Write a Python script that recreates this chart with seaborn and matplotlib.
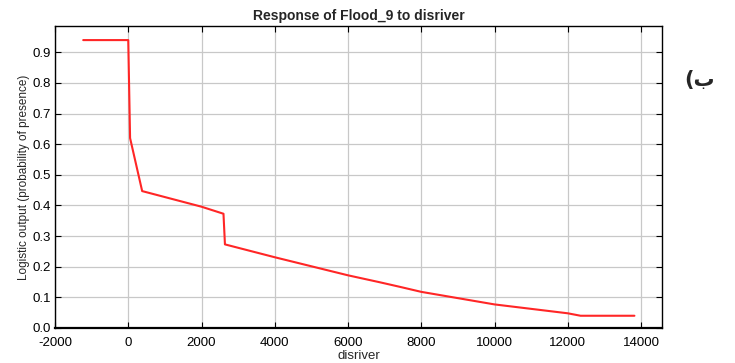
import matplotlib
matplotlib.use("Agg")
import matplotlib.pyplot as plt
import seaborn as sns
import pandas as pd

# Data
disriver = [-1230, 0, 50, 380, 2000, 2600, 2640, 4000, 6000, 6880, 7430,
            8000, 10000, 12000, 12350, 13820]
response = [0.940, 0.940, 0.620, 0.447, 0.396, 0.373, 0.273, 0.231, 0.172,
            0.149, 0.134, 0.118, 0.077, 0.048, 0.040, 0.040]
x_ticks = [-2000, 0, 2000, 4000, 6000, 8000, 10000, 12000, 14000]
y_ticks = [0.0, 0.1, 0.2, 0.3, 0.4, 0.5, 0.6, 0.7, 0.8, 0.9]
title = "Response of Flood_9 to disriver"
xlabel = "disriver"
ylabel = "Logistic output (probability of presence)"
side_label = "(ب"

df = pd.DataFrame({"disriver": disriver, "response": response})

sns.set_style("white")
plt.rcParams['font.family'] = ['Liberation Sans', 'DejaVu Sans']

fig = plt.figure(figsize=(7.35, 3.63), dpi=100)
ax = fig.add_axes([55/735, 1 - 328/363, (662-55)/735, (328-26)/363])

sns.lineplot(data=df, x="disriver", y="response", ax=ax, color="#ff2626",
             linewidth=1.5, sort=False)

ax.set_xlim(-1960, 14573)
ax.set_ylim(0, 0.986)
ax.set_xticks(x_ticks)
ax.set_xticklabels([str(v) for v in x_ticks])
ax.set_yticks(y_ticks)
ax.set_yticklabels([f"{v:.1f}" for v in y_ticks])
ax.grid(True, color="#c8c8c8", linewidth=0.9)
ax.set_axisbelow(True)
for s in ax.spines.values():
    s.set_color("black")
    s.set_linewidth(1.0)
ax.spines['bottom'].set_linewidth(1.6)
ax.tick_params(axis='both', direction='in', length=4, width=0.8,
               labelsize=9.5, colors='black', top=True, right=True,
               bottom=True, left=True)
ax.tick_params(axis='x', pad=6.5)
ax.tick_params(axis='y', pad=3)
ax.set_title(title, fontsize=10, fontweight='bold', pad=4)
ax.set_xlabel(xlabel, fontsize=9.5, labelpad=1)
ax.set_ylabel(ylabel, fontsize=8.5, labelpad=2)

fig.text(700/735, 1 - 80/363, side_label, fontsize=15, fontweight='bold',
         ha='center', va='center', family=['DejaVu Sans'])

fig.savefig("out.png", dpi=100, facecolor="white")
